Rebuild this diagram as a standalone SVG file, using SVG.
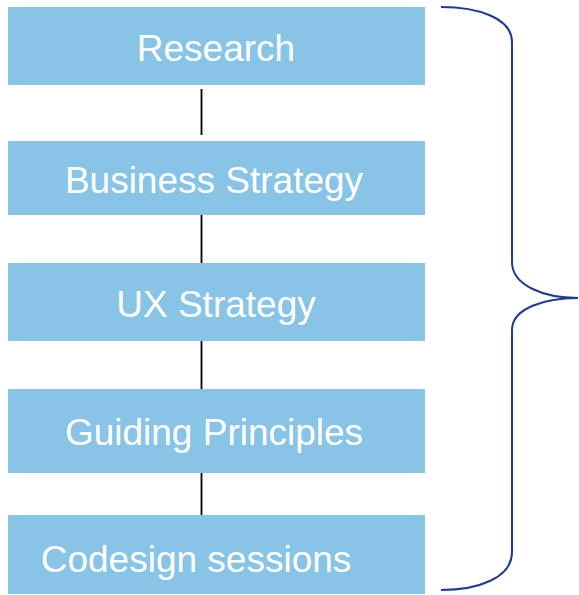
<svg xmlns="http://www.w3.org/2000/svg" width="579" height="595" viewBox="0 0 579 595">
  <style>
    .box { fill: #87C4E6; }
    .label { font-family: "Liberation Sans", Arial, sans-serif; font-size: 37px; fill: #FFFFFF; text-anchor: middle; }
    .link { stroke: #000000; stroke-width: 1.8; fill: none; }
    .brace { stroke: #1F3A93; stroke-width: 2; fill: none; }
  </style>
  <rect width="579" height="595" fill="#FFFFFF"/>

  <g id="connectors">
    <line class="link" x1="201.5" y1="89" x2="201.5" y2="135"/>
    <line class="link" x1="201.5" y1="214" x2="201.5" y2="263"/>
    <line class="link" x1="201.5" y1="340" x2="201.5" y2="389"/>
    <line class="link" x1="201.5" y1="472" x2="201.5" y2="515"/>
  </g>

  <g id="research">
    <rect class="box" x="8" y="7" width="417" height="78"/>
    <text class="label" x="216" y="61">Research</text>
  </g>
  <g id="business-strategy">
    <rect class="box" x="8" y="141" width="417" height="74"/>
    <text class="label" x="214" y="193">Business Strategy</text>
  </g>
  <g id="ux-strategy">
    <rect class="box" x="8" y="263" width="417" height="78"/>
    <text class="label" x="216" y="317">UX Strategy</text>
  </g>
  <g id="guiding-principles">
    <rect class="box" x="8" y="389" width="417" height="84"/>
    <text class="label" x="214" y="445">Guiding Principles</text>
  </g>
  <g id="codesign-sessions">
    <rect class="box" x="8" y="515" width="417" height="79"/>
    <text class="label" x="196" y="572">Codesign sessions</text>
  </g>

  <g id="brace">
    <path class="brace" d="M441,7 C478,7 512,18 512,42 L512,262 C512,286 545,298 578,298 C545,298 512,308 512,330 L512,552 C512,578 478,590 441,590"/>
  </g>
</svg>
